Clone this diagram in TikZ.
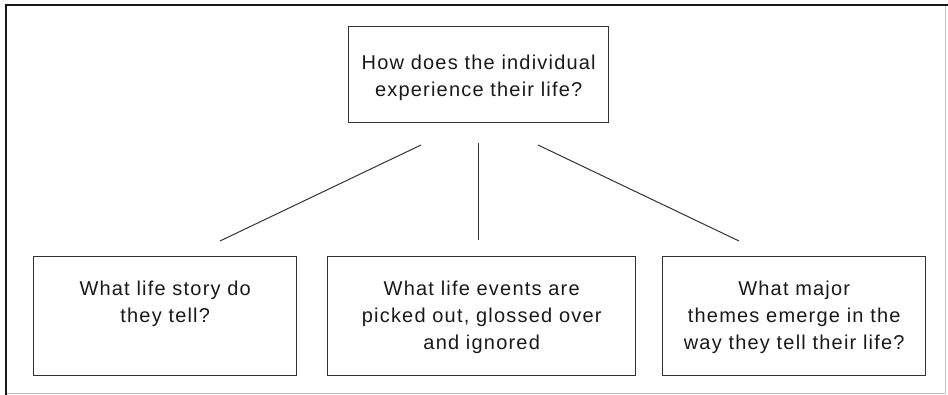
\documentclass[tikz,border=0pt]{standalone}
\usepackage{fontspec}
\setmainfont{Liberation Sans}[LetterSpace=6]
\begin{document}
\begin{tikzpicture}[x=0.5pt,y=-0.5pt,
  qbox/.style={draw=black!80, line width=0.7pt, inner sep=0pt, anchor=north west},
  qtext/.style={align=center, inner sep=0pt, anchor=north, text=black!90,
    font=\fontsize{10}{13.5}\selectfont},
  link/.style={draw=black!80, line width=0.5pt}]
  \useasboundingbox (0,0) rectangle (948,395);
  % outer frame: strong top and left edges, faint right and bottom edges
  \draw[black!25, line width=0.5pt] (945,5) -- (945,393) -- (6,393);
  \draw[black!90, line width=1.1pt] (6,395) -- (6,5) -- (948,5);

  % boxes
  \node[qbox, minimum width=130pt, minimum height=48pt] (top) at (348,26) {};
  \node[qbox, minimum width=131.5pt, minimum height=59.5pt] (story) at (33,256) {};
  \node[qbox, minimum width=154pt, minimum height=59.5pt] (events) at (327,256) {};
  \node[qbox, minimum width=131.5pt, minimum height=59.5pt] (themes) at (662,256) {};

  % questions
  \node[qtext] (ttop) at ([yshift=-14.2pt]top.north) {How does the individual\\experience their life?};
  \node[qtext] (tstory) at ([yshift=-12.4pt]story.north) {What life story do\\they tell?};
  \node[qtext] (tevents) at ([yshift=-12.4pt]events.north) {What life events are\\picked out, glossed over\\and ignored};
  \node[qtext] (tthemes) at ([yshift=-12.4pt]themes.north) {What major\\themes emerge in the\\way they tell their life?};

  % free-standing branch lines between the levels
  \coordinate (la) at (421,145); \coordinate (lb) at (220,241);
  \coordinate (ma) at (478.5,143); \coordinate (mb) at (478.5,240);
  \coordinate (ra) at (538,145); \coordinate (rb) at (739,241);
  \draw[link] (la) -- (lb);
  \draw[link] (ma) -- (mb);
  \draw[link] (ra) -- (rb);
\end{tikzpicture}
\end{document}
